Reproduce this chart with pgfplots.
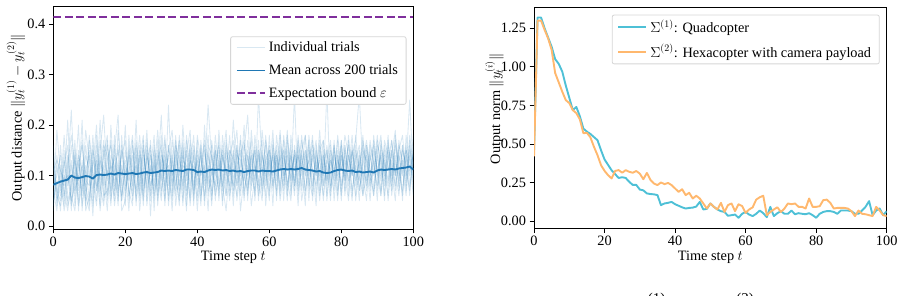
\documentclass[border=0pt]{standalone}
\usepackage{fontspec}
\setmainfont{Liberation Serif}
\usepackage{pgfplots}
\usepackage{pgfplotstable}
\pgfplotsset{compat=1.18}

\newcommand\fs{\fontsize{14.3}{17}\selectfont}

\definecolor{tabblue}{HTML}{1F77B4}
\definecolor{boundpurple}{HTML}{7F2F9C}
\definecolor{quadcyan}{HTML}{4EC0D6}
\definecolor{hexorange}{HTML}{FFB86E}
\definecolor{legendedge}{HTML}{D6D6D6}

% sampled trials of the output distance (t, then one column per trial)
\pgfplotstableread{
t a b c d e f g h i j k l
0 0.05 0.12 0.03 0.16 0.07 0.04 0.10 0.06 0.14 0.08 0.09 0.11
1 0.09 0.04 0.14 0.06 0.03 0.12 0.07 0.19 0.05 0.10 0.08 0.13
2 0.06 0.16 0.08 0.04 0.12 0.07 0.05 0.10 0.09 0.14 0.03 0.11
3 0.13 0.07 0.04 0.10 0.05 0.18 0.12 0.03 0.08 0.06 0.15 0.09
4 0.08 0.03 0.11 0.05 0.14 0.09 0.16 0.07 0.21 0.12 0.04 0.10
5 0.12 0.09 0.23 0.08 0.04 0.13 0.03 0.16 0.06 0.18 0.07 0.05
6 0.06 0.14 0.07 0.17 0.10 0.04 0.15 0.09 0.03 0.12 0.13 0.08
7 0.15 0.05 0.10 0.03 0.08 0.13 0.07 0.20 0.12 0.04 0.09 0.14
8 0.04 0.12 0.06 0.13 0.21 0.07 0.10 0.03 0.16 0.08 0.17 0.11
9 0.11 0.08 0.16 0.07 0.03 0.14 0.05 0.12 0.09 0.19 0.06 0.04
10 0.14 0.04 0.09 0.18 0.06 0.11 0.15 0.05 0.08 0.13 0.03 0.17
11 0.05 0.16 0.04 0.11 0.13 0.02 0.09 0.15 0.18 0.07 0.12 0.10
12 0.18 0.07 0.13 0.05 0.10 0.16 0.04 0.11 0.07 0.14 0.20 0.08
13 0.08 0.11 0.06 0.15 0.17 0.09 0.14 0.04 0.13 0.03 0.07 0.21
14 0.04 0.17 0.14 0.22 0.05 0.12 0.08 0.16 0.10 0.11 0.15 0.06
15 0.13 0.06 0.18 0.09 0.11 0.05 0.16 0.14 0.03 0.17 0.10 0.07
16 0.16 0.10 0.05 0.13 0.04 0.20 0.11 0.07 0.14 0.06 0.17 0.12
17 0.07 0.14 0.11 0.04 0.16 0.08 0.05 0.18 0.12 0.15 0.06 0.10
18 0.11 0.05 0.15 0.10 0.07 0.13 0.19 0.06 0.04 0.22 0.12 0.16
19 0.05 0.16 0.09 0.14 0.12 0.06 0.10 0.15 0.18 0.05 0.08 0.03
20 0.15 0.08 0.04 0.17 0.06 0.11 0.13 0.10 0.07 0.12 0.20 0.05
21 0.10 0.13 0.16 0.06 0.18 0.03 0.07 0.14 0.11 0.09 0.05 0.15
22 0.06 0.18 0.10 0.11 0.08 0.16 0.04 0.05 0.14 0.17 0.12 0.07
23 0.14 0.04 0.12 0.07 0.15 0.10 0.17 0.11 0.05 0.06 0.16 0.21
24 0.08 0.15 0.06 0.16 0.03 0.13 0.11 0.18 0.10 0.14 0.07 0.05
25 0.17 0.07 0.14 0.05 0.11 0.18 0.06 0.08 0.16 0.04 0.15 0.10
26 0.04 0.11 0.08 0.14 0.17 0.05 0.15 0.13 0.07 0.16 0.10 0.19
27 0.12 0.06 0.17 0.10 0.07 0.15 0.02 0.16 0.11 0.08 0.14 0.05
28 0.07 0.16 0.05 0.15 0.13 0.08 0.14 0.03 0.18 0.11 0.06 0.12
29 0.15 0.10 0.13 0.06 0.05 0.17 0.08 0.14 0.04 0.19 0.11 0.07
30 0.10 0.05 0.16 0.11 0.15 0.07 0.18 0.06 0.13 0.09 0.22 0.14
31 0.05 0.14 0.07 0.18 0.10 0.13 0.04 0.17 0.08 0.15 0.06 0.11
32 0.16 0.08 0.11 0.04 0.14 0.06 0.16 0.10 0.15 0.05 0.24 0.12
33 0.11 0.17 0.06 0.13 0.08 0.15 0.10 0.05 0.19 0.14 0.07 0.03
34 0.06 0.11 0.15 0.08 0.18 0.04 0.12 0.16 0.10 0.07 0.17 0.14
35 0.14 0.04 0.10 0.16 0.06 0.11 0.17 0.13 0.05 0.18 0.08 0.07
36 0.08 0.15 0.17 0.05 0.12 0.14 0.07 0.04 0.16 0.11 0.13 0.20
37 0.17 0.07 0.04 0.14 0.11 0.10 0.15 0.18 0.06 0.03 0.12 0.09
38 0.04 0.12 0.14 0.19 0.05 0.16 0.08 0.11 0.13 0.17 0.06 0.15
39 0.12 0.18 0.08 0.06 0.15 0.05 0.14 0.07 0.11 0.13 0.16 0.04
40 0.10 0.06 0.13 0.15 0.08 0.17 0.03 0.14 0.05 0.10 0.11 0.18
41 0.15 0.11 0.05 0.10 0.16 0.07 0.12 0.06 0.17 0.14 0.04 0.13
42 0.06 0.16 0.15 0.12 0.04 0.11 0.17 0.10 0.08 0.05 0.20 0.09
43 0.11 0.08 0.10 0.03 0.14 0.18 0.06 0.24 0.12 0.16 0.07 0.15
44 0.16 0.14 0.07 0.17 0.10 0.05 0.11 0.13 0.04 0.14 0.09 0.06
45 0.05 0.10 0.18 0.11 0.15 0.13 0.08 0.06 0.16 0.07 0.15 0.12
46 0.13 0.17 0.11 0.07 0.06 0.16 0.14 0.10 0.08 0.19 0.05 0.15
47 0.08 0.05 0.15 0.14 0.18 0.08 0.04 0.16 0.13 0.10 0.14 0.07
48 0.15 0.13 0.06 0.10 0.11 0.03 0.16 0.08 0.19 0.06 0.11 0.17
49 0.07 0.15 0.14 0.18 0.05 0.12 0.10 0.14 0.06 0.15 0.08 0.11
50 0.14 0.07 0.17 0.06 0.14 0.10 0.15 0.04 0.11 0.13 0.21 0.08
51 0.10 0.16 0.08 0.12 0.19 0.06 0.05 0.15 0.16 0.08 0.11 0.14
52 0.17 0.08 0.12 0.15 0.07 0.14 0.11 0.10 0.03 0.18 0.06 0.13
53 0.06 0.14 0.16 0.05 0.12 0.17 0.09 0.20 0.10 0.07 0.15 0.10
54 0.12 0.05 0.10 0.14 0.15 0.08 0.17 0.06 0.14 0.11 0.22 0.07
55 0.09 0.19 0.14 0.10 0.04 0.12 0.10 0.15 0.07 0.17 0.08 0.14
56 0.15 0.11 0.06 0.16 0.10 0.15 0.07 0.12 0.18 0.05 0.12 0.09
57 0.05 0.15 0.26 0.08 0.14 0.06 0.13 0.09 0.11 0.15 0.07 0.17
58 0.14 0.07 0.12 0.19 0.11 0.10 0.17 0.05 0.15 0.08 0.14 0.06
59 0.10 0.16 0.08 0.12 0.06 0.17 0.04 0.14 0.09 0.18 0.11 0.13
60 0.16 0.09 0.15 0.06 0.18 0.11 0.13 0.07 0.14 0.10 0.05 0.15
61 0.07 0.14 0.11 0.15 0.08 0.19 0.10 0.16 0.04 0.14 0.17 0.08
62 0.13 0.06 0.16 0.10 0.14 0.05 0.15 0.11 0.18 0.07 0.09 0.14
63 0.08 0.18 0.07 0.14 0.11 0.15 0.06 0.19 0.12 0.16 0.13 0.05
64 0.15 0.10 0.14 0.05 0.17 0.08 0.18 0.09 0.07 0.12 0.15 0.11
65 0.06 0.12 0.09 0.18 0.07 0.14 0.11 0.15 0.17 0.05 0.08 0.19
66 0.14 0.16 0.05 0.11 0.15 0.09 0.14 0.06 0.09 0.18 0.12 0.07
67 0.09 0.07 0.15 0.14 0.08 0.26 0.08 0.16 0.14 0.11 0.06 0.15
68 0.16 0.14 0.08 0.07 0.18 0.06 0.15 0.10 0.04 0.14 0.17 0.11
69 0.07 0.11 0.17 0.15 0.10 0.12 0.05 0.14 0.15 0.08 0.12 0.18
70 0.12 0.18 0.11 0.06 0.14 0.15 0.10 0.07 0.18 0.15 0.04 0.10
71 0.17 0.08 0.13 0.15 0.05 0.10 0.16 0.12 0.07 0.09 0.18 0.13
72 0.05 0.15 0.07 0.11 0.17 0.13 0.08 0.18 0.14 0.06 0.11 0.16
73 0.13 0.10 0.16 0.04 0.11 0.17 0.14 0.06 0.10 0.15 0.08 0.12
74 0.09 0.17 0.06 0.16 0.13 0.07 0.11 0.15 0.19 0.10 0.14 0.05
75 0.15 0.05 0.12 0.10 0.08 0.14 0.06 0.17 0.08 0.17 0.11 0.14
76 0.06 0.13 0.15 0.13 0.27 0.09 0.15 0.09 0.12 0.05 0.16 0.08
77 0.14 0.11 0.07 0.17 0.06 0.16 0.08 0.13 0.05 0.13 0.10 0.15
78 0.10 0.16 0.14 0.08 0.15 0.05 0.17 0.11 0.16 0.09 0.07 0.12
79 0.17 0.07 0.10 0.14 0.11 0.13 0.06 0.15 0.09 0.18 0.14 0.05
80 0.07 0.14 0.17 0.06 0.16 0.11 0.14 0.05 0.15 0.11 0.08 0.17
81 0.13 0.09 0.06 0.15 0.10 0.18 0.10 0.16 0.07 0.14 0.16 0.09
82 0.09 0.17 0.14 0.11 0.05 0.14 0.16 0.08 0.18 0.06 0.11 0.14
83 0.15 0.06 0.10 0.18 0.14 0.07 0.12 0.15 0.10 0.16 0.05 0.10
84 0.05 0.13 0.16 0.08 0.17 0.12 0.06 0.11 0.14 0.09 0.15 0.18
85 0.12 0.16 0.07 0.14 0.26 0.05 0.15 0.09 0.07 0.13 0.11 0.10
86 0.16 0.09 0.13 0.10 0.11 0.15 0.07 0.17 0.12 0.06 0.18 0.06
87 0.07 0.15 0.17 0.05 0.09 0.13 0.16 0.12 0.16 0.10 0.08 0.14
88 0.14 0.07 0.11 0.16 0.15 0.08 0.10 0.05 0.11 0.17 0.13 0.09
89 0.10 0.18 0.06 0.13 0.07 0.17 0.13 0.15 0.06 0.12 0.16 0.11
90 0.16 0.11 0.14 0.07 0.17 0.10 0.05 0.11 0.14 0.08 0.10 0.18
91 0.06 0.14 0.09 0.17 0.12 0.14 0.16 0.07 0.18 0.15 0.06 0.10
92 0.13 0.05 0.16 0.11 0.08 0.06 0.12 0.17 0.09 0.10 0.15 0.14
93 0.09 0.17 0.12 0.06 0.16 0.15 0.08 0.14 0.13 0.18 0.11 0.05
94 0.15 0.10 0.07 0.15 0.11 0.09 0.17 0.08 0.17 0.06 0.14 0.13
95 0.07 0.14 0.17 0.10 0.05 0.18 0.11 0.16 0.10 0.13 0.19 0.08
96 0.14 0.08 0.11 0.16 0.15 0.12 0.06 0.10 0.15 0.09 0.07 0.17
97 0.10 0.16 0.06 0.13 0.18 0.07 0.15 0.13 0.05 0.16 0.12 0.11
98 0.16 0.09 0.15 0.08 0.10 0.14 0.12 0.07 0.18 0.11 0.15 0.06
99 0.08 0.17 0.10 0.18 0.14 0.06 0.25 0.15 0.11 0.07 0.13 0.16
100 0.13 0.07 0.18 0.12 0.09 0.16 0.10 0.11 0.14 0.15 0.06 0.10
}\trials

% mean output distance across 200 trials
\pgfplotstableread{
t y
0 0.082
1 0.085
2 0.088
3 0.090
4 0.092
5 0.100
6 0.096
7 0.095
8 0.097
9 0.099
10 0.098
11 0.094
12 0.101
13 0.102
14 0.101
15 0.102
16 0.104
17 0.102
18 0.105
19 0.104
20 0.103
21 0.104
22 0.105
23 0.103
24 0.104
25 0.106
26 0.107
27 0.105
28 0.106
29 0.107
30 0.110
31 0.109
32 0.110
33 0.109
34 0.111
35 0.110
36 0.109
37 0.112
38 0.112
39 0.111
40 0.107
41 0.108
42 0.107
43 0.110
44 0.112
45 0.111
46 0.112
47 0.110
48 0.111
49 0.109
50 0.110
51 0.108
52 0.109
53 0.107
54 0.109
55 0.110
56 0.110
57 0.108
58 0.110
59 0.109
60 0.109
61 0.108
62 0.110
63 0.112
64 0.113
65 0.112
66 0.113
67 0.112
68 0.113
69 0.115
70 0.112
71 0.111
72 0.110
73 0.108
74 0.109
75 0.106
76 0.105
77 0.106
78 0.109
79 0.111
80 0.112
81 0.110
82 0.109
83 0.110
84 0.107
85 0.108
86 0.106
87 0.107
88 0.108
89 0.106
90 0.110
91 0.112
92 0.111
93 0.112
94 0.113
95 0.112
96 0.114
97 0.115
98 0.116
99 0.118
100 0.112
}\meantrial

% output norms of the two systems
\pgfplotstableread{
t quad hex
0 0.45 0.42
1 1.32 1.30
2 1.32 1.30
3 1.25 1.24
4 1.19 1.185
5 1.13 1.11
6 1.05 0.96
7 1.02 0.90
8 0.97 0.84
9 0.88 0.785
10 0.80 0.765
11 0.72 0.72
12 0.74 0.70
13 0.68 0.66
14 0.60 0.57
15 0.58 0.573
16 0.565 0.543
17 0.545 0.482
18 0.525 0.428
19 0.46 0.363
20 0.40 0.326
21 0.365 0.298
22 0.33 0.277
23 0.305 0.326
24 0.28 0.331
25 0.285 0.314
26 0.28 0.331
27 0.255 0.32
28 0.235 0.314
29 0.235 0.325
30 0.205 0.308
31 0.20 0.272
32 0.18 0.313
33 0.176 0.268
34 0.174 0.244
35 0.169 0.234
36 0.104 0.251
37 0.115 0.24
38 0.119 0.248
39 0.125 0.234
40 0.11 0.212
41 0.10 0.19
42 0.09 0.207
43 0.082 0.169
44 0.086 0.184
45 0.088 0.147
46 0.095 0.165
47 0.125 0.147
48 0.076 0.115
49 0.08 0.082
50 0.115 0.115
51 0.093 0.093
52 0.076 0.076
53 0.065 0.119
54 0.06 0.06
55 0.035 0.104
56 0.039 0.115
57 0.043 0.065
58 0.022 0.11
59 0.048 0.098
60 0.06 0.054
61 0.043 0.076
62 0.033 0.09
63 0.048 0.14
64 0.069 0.155
65 0.052 0.165
66 0.026 0.039
67 0.093 0.06
68 0.033 0.076
69 0.052 0.09
70 0.065 0.06
71 0.048 0.082
72 0.048 0.115
73 0.069 0.11
74 0.045 0.115
75 0.052 0.093
76 0.048 0.093
77 0.045 0.082
78 0.052 0.147
79 0.039 0.093
80 0.022 0.093
81 0.048 0.097
82 0.06 0.136
83 0.065 0.14
84 0.065 0.119
85 0.06 0.082
86 0.048 0.086
87 0.069 0.086
88 0.069 0.086
89 0.069 0.082
90 0.065 0.065
91 0.048 0.033
92 0.048 0.069
93 0.069 0.048
94 0.093 0.045
95 0.13 0.039
96 0.039 0.033
97 0.069 0.093
98 0.082 0.069
99 0.039 0.039
100 0.065 0.033
}\norms

% legend boxes: white fill only; the thin edge is drawn after each axis
\tikzset{
  mpllegend/.style={
    font=\fs, draw=none, rounded corners=2pt, fill=white,
    inner xsep=5pt, inner ysep=2pt, nodes={inner sep=3pt},
  },
  legendframe/.style={draw=legendedge, line width=0.8pt, rounded corners=2pt},
}

\pgfplotsset{
  mplaxis/.style={
    scale only axis,
    anchor=south west,
    xmin=0, xmax=100,
    xtick={0,20,40,60,80,100},
    xtick pos=bottom, ytick pos=left,
    tick align=outside,
    major tick length=4.5pt,
    tick style={black, line width=0.9pt},
    axis line style={black, line width=0.9pt},
    ticklabel style={font=\fs},
    /pgf/number format/assume math mode=true,
    label style={font=\fs},
    xlabel={Time step $t$},
    xlabel style={at={([yshift=-32pt]axis description cs:0.5,0)}, anchor=base},
    legend cell align=left,
    legend image code/.code={\draw[##1] (0pt,0pt) -- (28pt,0pt);},
    every axis plot/.append style={line join=round},
  },
}

\begin{document}
\begin{tikzpicture}
\useasboundingbox (0,0) rectangle (904pt,296pt);

\begin{axis}[mplaxis,
  at={(53.3pt,67pt)}, width=360pt, height=222.3pt,
  ymin=-0.006, ymax=0.435,
  ytick={0,0.1,0.2,0.3,0.4},
  yticklabel style={/pgf/number format/.cd, fixed, fixed zerofill, precision=1},
  ylabel={Output distance $\|y_t^{(1)} - y_t^{(2)}\|$},
  ylabel style={at={([xshift=-31.6pt]axis description cs:0,0.5)}, anchor=base},
  legend style={/tikz/mpllegend, at={(0.98,0.865)}, anchor=north east, row sep=5.5pt, name=legleft},
]
  \addplot[color=tabblue, opacity=0.17, line width=0.85pt] table[x=t, y=a] {\trials};
  \addlegendentry{Individual trials}
  \pgfplotsinvokeforeach{b,c,d,e,f,g,h,i,j,k,l}{
    \addplot[color=tabblue, opacity=0.17, line width=0.85pt, forget plot] table[x=t, y=#1] {\trials};
  }
  \addplot[color=tabblue, line width=1.9pt] table[x=t, y=y] {\meantrial};
  \addlegendentry{Mean across 200 trials}
  \addplot[color=boundpurple, line width=2pt, dash pattern=on 8pt off 3.5pt] coordinates {(0,0.415) (100,0.415)};
  \addlegendentry{Expectation bound $\varepsilon$}
\end{axis}
\draw[legendframe] (legleft.south west) rectangle (legleft.north east);

\begin{axis}[mplaxis,
  at={(534pt,67.7pt)}, width=352.7pt, height=221pt,
  ymin=-0.046, ymax=1.386,
  ytick={0,0.25,0.5,0.75,1,1.25},
  yticklabel style={/pgf/number format/.cd, fixed, fixed zerofill, precision=2},
  ylabel={Output norm $\|y_t^{(i)}\|$},
  ylabel style={at={([xshift=-34pt]axis description cs:0,0.54)}, anchor=base},
  legend style={/tikz/mpllegend, at={(0.979,0.965)}, anchor=north east, row sep=4pt, name=legright},
]
  \addplot[color=quadcyan, line width=1.9pt] table[x=t, y=quad] {\norms};
  \addlegendentry{$\Sigma^{(1)}$: Quadcopter}
  \addplot[color=hexorange, line width=1.9pt] table[x=t, y=hex] {\norms};
  \addlegendentry{$\Sigma^{(2)}$: Hexacopter with camera payload}
\end{axis}
\draw[legendframe] (legright.south west) rectangle (legright.north east);

% caption line below the panels (only its upper edge falls inside the page)
\node[anchor=base, font=\fontsize{15}{18}\selectfont] at (656.7pt,-8pt) {(1)};
\node[anchor=base, font=\fontsize{15}{18}\selectfont] at (745pt,-8pt) {(2)};
\end{tikzpicture}
\end{document}
